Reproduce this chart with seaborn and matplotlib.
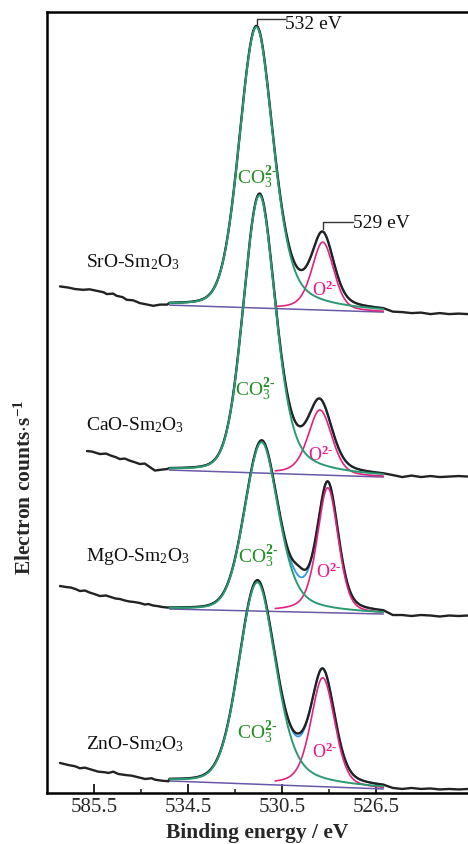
import numpy as np
import pandas as pd
import matplotlib
matplotlib.use("Agg")
import matplotlib.pyplot as plt
import seaborn as sns

# ---------------------------------------------------------------- data
samples = ["SrO-Sm$_2$O$_3$", "CaO-Sm$_2$O$_3$", "MgO-Sm$_2$O$_3$", "ZnO-Sm$_2$O$_3$"]

# fitting window and linear background (binding energy in eV, counts in a.u.)
fit_window = [535.3, 526.2]
o2_window = [530.8, 526.2]
base_start = [488, 323, 184, 12]
base_end = [481, 316, 179, 4]

# carbonate component: centre, height, FWHM, Lorentzian share (high-BE side, low-BE side)
co3_center = [531.60, 531.47, 531.38, 531.56]
co3_height = [281, 278, 169, 202]
co3_fwhm = [1.70, 1.62, 1.70, 1.85]
co3_eta = (0.15, 0.45)

# lattice oxygen component: centre, height, FWHM, Lorentzian share (high-BE side, low-BE side)
o2_center = [528.78, 528.90, 528.57, 528.78]
o2_height = [68, 65, 125, 109]
o2_fwhm = [1.10, 1.20, 1.06, 1.20]
o2_eta = (0.45, 0.30)

# measured signal lying above the fit envelope in the valley
valley_excess = [0, 0, 10, 3]
valley_center = 529.8

# measured signal on the high binding-energy side of the window
left_E = [
    [539.96, 539.6, 539.3, 538.97, 538.7, 538.4, 538.1, 537.97, 537.7, 537.55, 537.3,
     537.12, 536.85, 536.56, 536.3, 535.99, 535.7, 535.4],
    [538.81, 538.6, 538.4, 538.26, 538.0, 537.8, 537.6, 537.41, 537.2, 537.0, 536.8,
     536.56, 536.35, 536.2, 535.92, 535.6, 535.4],
    [539.96, 539.7, 539.5, 539.3, 539.11, 538.9, 538.7, 538.5, 538.26, 538.0, 537.8,
     537.6, 537.41, 537.2, 537.0, 536.8, 536.56, 536.35, 536.2, 536.0, 535.83, 535.6, 535.4],
    [539.96, 539.61, 539.32, 539.11, 538.90, 538.61, 538.33, 538.05, 537.90, 537.69,
     537.48, 537.19, 536.91, 536.63, 536.34, 536.06, 535.92, 535.63, 535.35],
]
left_counts = [
    [506.7, 505.5, 504.0, 503.3, 503.8, 502.3, 500.8, 499.0, 499.5, 497.3, 496.0,
     493.3, 492.8, 490.0, 488.8, 487.3, 488.5, 488.5],
    [342.0, 341.5, 340.0, 339.0, 339.5, 337.5, 336.0, 334.0, 334.5, 332.5, 331.0,
     329.0, 329.5, 327.0, 322.5, 323.5, 324.0],
    [207.0, 206.0, 205.5, 204.0, 202.0, 202.5, 200.5, 199.0, 197.0, 197.5, 196.0,
     194.5, 194.0, 192.5, 191.5, 191.0, 190.0, 188.5, 189.0, 187.5, 187.0, 186.0, 185.5],
    [30.0, 28.0, 26.7, 24.7, 25.3, 23.3, 21.3, 20.7, 20.0, 21.3,
     19.0, 18.0, 17.3, 15.7, 14.0, 14.7, 13.3, 12.3, 11.7],
]

# measured signal on the low binding-energy side of the window
right_E = [526.2, 525.8, 525.4, 525.0, 524.6, 524.2, 523.8, 523.4, 523.0, 522.6]
right_counts = [
    [481.0, 481.5, 481.0, 480.0, 480.5, 479.0, 480.0, 479.0, 479.5, 479.0],
    [316.0, 318.0, 316.0, 317.5, 316.0, 317.0, 316.0, 316.5, 317.0, 316.5],
    [178.5, 178.0, 178.0, 177.0, 178.0, 177.5, 176.5, 177.5, 177.0, 177.5],
    [4.5, 5.0, 4.0, 5.0, 4.0, 4.5, 3.5, 4.0, 3.5, 4.0],
]

# text placement (eV, counts)
sample_label_pos = [(538.85, 527.3), (538.85, 363.3), (538.85, 233.3), (538.85, 45.0)]
co3_label_pos = [(531.57, 616), (531.66, 404), (531.53, 237), (531.58, 61)]
o2_label_pos = [(528.68, 504), (528.85, 339), (528.51, 222), (528.68, 42)]

tick_pos = [538.5, 534.5, 530.5, 526.5]
tick_labels = ["585.5", "534.5", "530.5", "526.5"]
minor_pos = [536.5, 532.5, 528.5]

# ---------------------------------------------------------------- style
sns.set_style("white")
plt.rcParams["font.family"] = ["Liberation Serif", "DejaVu Serif"]
plt.rcParams["mathtext.fontset"] = "custom"
plt.rcParams["mathtext.rm"] = "Liberation Serif"
plt.rcParams["mathtext.it"] = "Liberation Serif:italic"
plt.rcParams["mathtext.bf"] = "Liberation Serif:bold"

C_MEAS = "#222222"
C_CO3 = "#2a9a72"
C_O2 = "#e0237f"
C_BASE = "#6a58a8"
C_ENV = "#2f9be8"
C_CO3_TXT = "#1f901f"
C_O2_TXT = "#f0168a"


def pseudo_voigt(E, c, h, w, eta):
    """Pseudo-Voigt line with separate Lorentzian share on each side of the centre."""
    u = (E - c) / (w / 2.0)
    mix = np.where(E >= c, eta[0], eta[1])
    return h * (mix / (1.0 + u ** 2) + (1.0 - mix) * np.exp(-np.log(2.0) * u ** 2))


def linear_base(E, i):
    t = (fit_window[0] - E) / (fit_window[0] - fit_window[1])
    return base_start[i] + (base_end[i] - base_start[i]) * t


fig = plt.figure(figsize=(4.68, 8.45), dpi=100)
ax = fig.add_axes([0.101, 0.0604, 0.899, 0.924])

for i in range(len(samples)):
    E_fit = np.linspace(fit_window[0], fit_window[1], 500)
    base = linear_base(E_fit, i)
    co3 = pseudo_voigt(E_fit, co3_center[i], co3_height[i], co3_fwhm[i], co3_eta)
    o2 = pseudo_voigt(E_fit, o2_center[i], o2_height[i], o2_fwhm[i], o2_eta)
    envelope = base + co3 + o2
    excess = valley_excess[i] * np.exp(-((E_fit - valley_center) / 0.35) ** 2)

    E_o2 = np.linspace(o2_window[0], o2_window[1], 300)
    o2_curve = linear_base(E_o2, i) + pseudo_voigt(E_o2, o2_center[i], o2_height[i],
                                                   o2_fwhm[i], o2_eta)

    meas = pd.DataFrame({
        "E": np.concatenate([left_E[i], E_fit, right_E[1:]]),
        "counts": np.concatenate([left_counts[i], envelope + excess, right_counts[i][1:]]),
    })

    sns.lineplot(x=fit_window, y=[base_start[i], base_end[i]], ax=ax, color=C_BASE,
                 linewidth=1.1, sort=False, estimator=None, zorder=2)
    sns.lineplot(x=E_fit, y=envelope, ax=ax, color=C_ENV, linewidth=1.3,
                 sort=False, estimator=None, zorder=3)
    sns.lineplot(data=meas, x="E", y="counts", ax=ax, color=C_MEAS, linewidth=1.7,
                 sort=False, estimator=None, zorder=4)
    sns.lineplot(x=E_o2, y=o2_curve, ax=ax, color=C_O2, linewidth=1.2,
                 sort=False, estimator=None, zorder=5)
    sns.lineplot(x=E_fit, y=base + co3, ax=ax, color=C_CO3, linewidth=1.4,
                 sort=False, estimator=None, zorder=6)

    ax.text(*sample_label_pos[i], samples[i], fontsize=14, ha="left", va="baseline",
            color="#111111")
    ax.text(*co3_label_pos[i], r"CO$_3^{\mathbf{2\text{-}}}$", fontsize=14, ha="center",
            va="center", color=C_CO3_TXT)
    ax.text(*o2_label_pos[i], r"O$^{\mathbf{2\text{-}}}$", fontsize=13, ha="center",
            va="center", color=C_O2_TXT)

# peak position call-outs
ax.plot([531.56, 531.56, 530.39], [769, 774, 774], color="#333333", lw=1.0, zorder=7)
ax.text(530.39, 770, "532 eV", fontsize=14, ha="left", va="center", color="#111111")
ax.plot([528.75, 528.75, 527.49], [564, 571.3, 571.3], color="#333333", lw=1.0, zorder=7)
ax.text(527.49, 571, "529 eV", fontsize=14, ha="left", va="center", color="#111111")

ax.set_xlim(540.5, 522.6)
ax.set_ylim(0, 781)
ax.set_xticks(tick_pos)
ax.set_xticklabels(tick_labels)
ax.set_xticks(minor_pos, minor=True)
ax.set_yticks([])
ax.tick_params(axis="x", which="major", direction="in", length=6.5, width=1.4,
               labelsize=15, pad=3, bottom=True, top=False)
ax.tick_params(axis="x", which="minor", direction="in", length=3, width=1.2,
               bottom=True, top=False)
for side in ("left", "top", "bottom"):
    ax.spines[side].set_linewidth(1.8)
    ax.spines[side].set_color("black")
ax.spines["right"].set_visible(False)

ax.set_xlabel("Binding energy / eV", fontsize=15.5, fontweight="bold", labelpad=4)
ax.set_ylabel("")
fig.text(25 / 468, 1 - 487 / 845, r"Electron counts$\cdot$s$^{\mathbf{-1}}$",
         rotation=90, ha="center", va="center", fontsize=15.5, fontweight="bold")

fig.savefig("out.png", dpi=100)
